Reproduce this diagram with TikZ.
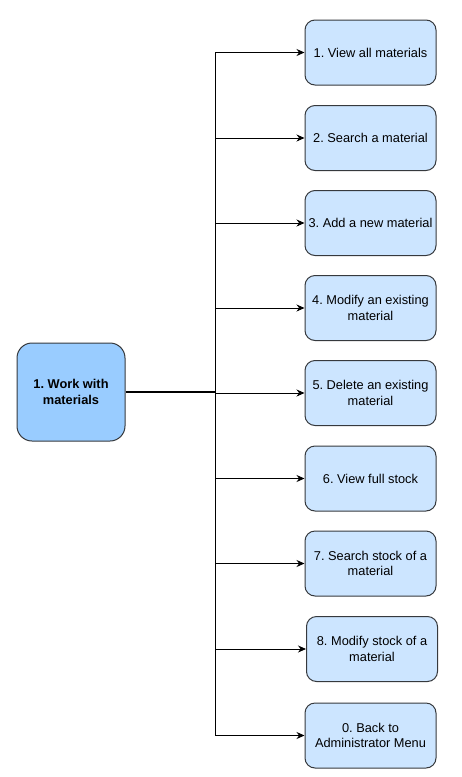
\documentclass[tikz,border=0pt]{standalone}
\usepackage{fontspec}
\setmainfont{Liberation Sans}
\usetikzlibrary{arrows.meta}
\definecolor{subfill}{HTML}{CCE5FF}
\definecolor{mainfill}{HTML}{99CCFF}
\definecolor{boxline}{HTML}{36393D}
\begin{document}
\frenchspacing
\begin{tikzpicture}[x=1pt,y=-1pt,
  subbox/.style={draw=boxline,fill=subfill,rounded corners=10pt,minimum width=131pt,minimum height=65pt,align=center,font=\fontsize{12.8}{15.2}\selectfont,line width=1pt,inner sep=2pt},
  mainbox/.style={draw=boxline,fill=mainfill,rounded corners=15pt,minimum width=108pt,minimum height=98pt,align=center,font=\bfseries\fontsize{12.8}{15.2}\selectfont,line width=1pt},
  arr/.style={-{Stealth[length=8pt,width=7pt]},line width=0.9pt}]
\useasboundingbox (0,0) rectangle (461,777);
\node[mainbox] (main) at (71,392) {1. Work with\\materials};
\node[subbox] (b1) at (370.5,52.5) {1. View all materials};
\node[subbox] (b2) at (370.5,138) {2. Search a material};
\node[subbox] (b3) at (370.5,223) {3. Add a new material};
\node[subbox] (b4) at (370.5,308) {4. Modify an existing\\material};
\node[subbox] (b5) at (370.5,393) {5. Delete an existing\\material};
\node[subbox] (b6) at (370.5,478.5) {6. View full stock};
\node[subbox] (b7) at (370.5,563.5) {7. Search stock of a\\material};
\node[subbox] (b8) at (372,649) {8. Modify stock of a\\material};
\node[subbox] (b0) at (370.5,735.5) {0. Back to\\Administrator Menu};
\coordinate (bus) at (215,392);
\draw[line width=1.6pt] (main.east) -- (bus);
\foreach \b in {b1,b2,b3,b4,b5,b6,b7,b8,b0}{
  \draw[arr] (bus) |- (\b.west);
}
\end{tikzpicture}
\end{document}
